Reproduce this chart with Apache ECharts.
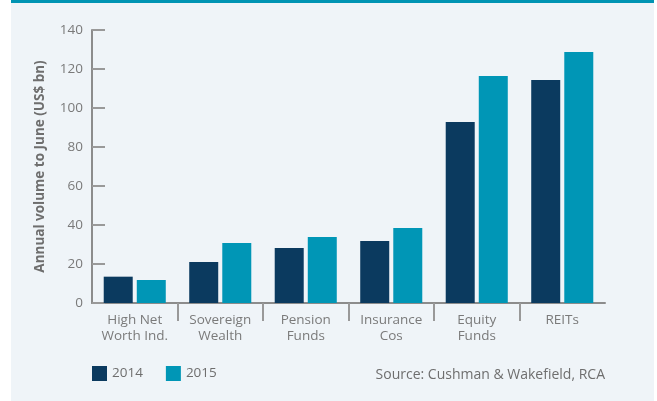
<!DOCTYPE html>
<html>
<head>
<meta charset="utf-8">
<script src="https://cdn.jsdelivr.net/npm/echarts@6/dist/echarts.min.js"></script>
<style>
  html, body { margin: 0; padding: 0; background: #fff; }
  #chart { width: 657px; height: 401px; }
</style>
</head>
<body>
<div id="chart"></div>
<script>
var categories = ["High Net\nWorth Ind.", "Sovereign\nWealth", "Pension\nFunds", "Insurance\nCos", "Equity\nFunds", "REITs"];
var years = ["2014", "2015"];
var values2014 = [13.5, 21, 28.2, 31.8, 92.8, 114.4];
var values2015 = [11.8, 30.8, 33.8, 38.5, 116.4, 128.7];
var yTicks = [0, 20, 40, 60, 80, 100, 120, 140];
// category boundaries that carry a tick (inner ones only)
var boundaryTicks = [1, 2, 3, 4, 5];

var font = "Open Sans";
var grey = "#7a7a7a";
var axisGrey = "#8c8c8c";

var myChart = echarts.init(document.getElementById("chart"));

var option = {
  backgroundColor: "#fff",
  textStyle: { fontFamily: font },
  graphic: [
    { type: "rect", z: -10, shape: { x: 11, y: 0, width: 643, height: 401 }, style: { fill: "#eff4f8" } },
    { type: "rect", z: -9, shape: { x: 11, y: 0, width: 643, height: 3 }, style: { fill: "#0094b3" } }
  ],
  title: {
    text: "Source: Cushman & Wakefield, RCA",
    right: 52,
    top: 368,
    padding: 0,
    textStyle: { fontFamily: font, fontSize: 14, fontWeight: "normal", color: "#6e6e6e" }
  },
  legend: {
    data: years,
    left: 92,
    top: 366,
    padding: 0,
    itemWidth: 15,
    itemHeight: 15,
    itemGap: 23,
    icon: "rect",
    textStyle: { fontFamily: font, fontSize: 13.5, color: "#6e6e6e" }
  },
  grid: [
    { left: 92, right: 52, top: 30, bottom: 98 },
    { left: 177.5, right: 137.5, top: 30, bottom: 98 }
  ],
  xAxis: [
    {
      type: "category",
      gridIndex: 0,
      data: categories,
      axisLine: { lineStyle: { color: axisGrey, width: 2 } },
      axisTick: { show: false },
      axisLabel: { color: grey, fontSize: 13.5, lineHeight: 16, margin: 9, interval: 0 }
    },
    {
      // inner boundary ticks between categories
      type: "value",
      gridIndex: 1,
      min: boundaryTicks[0],
      max: boundaryTicks[boundaryTicks.length - 1],
      interval: 1,
      axisLine: { show: false },
      axisLabel: { show: false },
      splitLine: { show: false },
      axisTick: { show: true, length: 18, lineStyle: { color: "#999", width: 2 } }
    }
  ],
  yAxis: [
    {
      type: "value",
      gridIndex: 0,
      min: yTicks[0],
      max: yTicks[yTicks.length - 1],
      interval: 20,
      name: "Annual volume to June (US$ bn)",
      nameLocation: "middle",
      nameGap: 45,
      nameTextStyle: { fontFamily: font, fontSize: 13.5, fontWeight: "bold", color: "#6e6e6e" },
      axisLine: { show: true, lineStyle: { color: axisGrey, width: 2 } },
      axisTick: { show: true, inside: true, length: 13, lineStyle: { color: "#999", width: 2 } },
      axisLabel: { color: grey, fontSize: 13.5, margin: 9 },
      splitLine: { show: false }
    },
    { type: "value", gridIndex: 1, show: false }
  ],
  series: [
    {
      name: years[0],
      type: "bar",
      xAxisIndex: 0,
      yAxisIndex: 0,
      barWidth: 29,
      barGap: "14%",
      itemStyle: { color: "#0b3a5f" },
      data: values2014
    },
    {
      name: years[1],
      type: "bar",
      xAxisIndex: 0,
      yAxisIndex: 0,
      barWidth: 29,
      barGap: "14%",
      itemStyle: { color: "#0096b6" },
      data: values2015
    }
  ]
};
myChart.setOption(option);
</script>
</body>
</html>
